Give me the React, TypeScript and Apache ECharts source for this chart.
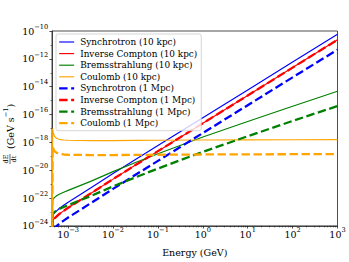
import React, { useEffect, useRef } from "react";
import * as echarts from "echarts";

// log10 of energy (GeV)
const logEnergy = [-3.355, -3.345, -3.33, -3.3, -3.25, -3.2, -3.1, -3.0, -2.5, -2.0, -1.5, -1.0, 0, 1, 2, 3];

// log10 of dE/dt (GeV s^-1)
const syncKpc = [-26, -23.3, -23.15, -23.05, -22.9, -22.75, -22.52, -22.3, -21.27, -20.24, -19.23, -18.23, -16.23, -14.23, -12.23, -10.23];
const icKpc = [-26, -23.7, -23.55, -23.45, -23.3, -23.15, -22.92, -22.7, -21.67, -20.64, -19.63, -18.63, -16.63, -14.63, -12.63, -10.63];
const bremKpc = [-26, -22.15, -22.05, -21.95, -21.82, -21.72, -21.58, -21.45, -20.8, -20.1, -19.45, -18.82, -17.62, -16.5, -15.4, -14.33];
const coulKpc = [-26, -17.0, -17.35, -17.6, -17.72, -17.78, -17.83, -17.85, -17.87, -17.87, -17.86, -17.85, -17.83, -17.82, -17.81, -17.8];
const syncMpc = [-26, -24.4, -24.25, -24.15, -24.0, -23.85, -23.62, -23.4, -22.37, -21.34, -20.33, -19.33, -17.33, -15.33, -13.33, -11.34];
const icMpc = [-26, -23.7, -23.55, -23.45, -23.3, -23.15, -22.92, -22.7, -21.67, -20.64, -19.63, -18.63, -16.63, -14.63, -12.63, -10.63];
const bremMpc = [-26, -23.2, -23.1, -23.0, -22.88, -22.78, -22.64, -22.51, -21.86, -21.16, -20.51, -19.88, -18.68, -17.56, -16.46, -15.39];
const coulMpc = [-26, -18.3, -18.45, -18.65, -18.76, -18.82, -18.87, -18.89, -18.91, -18.91, -18.9, -18.89, -18.87, -18.86, -18.85, -18.84];

const seriesNames = [
  "Synchrotron (10 kpc)",
  "Inverse Compton (10 kpc)",
  "Bremsstrahlung (10 kpc)",
  "Coulomb (10 kpc)",
  "Synchrotron (1 Mpc)",
  "Inverse Compton (1 Mpc)",
  "Bremsstrahlung (1 Mpc)",
  "Coulomb (1 Mpc)",
];
const seriesValues = [syncKpc, icKpc, bremKpc, coulKpc, syncMpc, icMpc, bremMpc, coulMpc];
const seriesColors = ["#0000ff", "#ff0000", "#008000", "#ffa500", "#0000ff", "#ff0000", "#008000", "#ffa500"];
const seriesDashed = [false, false, false, false, true, true, true, true];

const xTickExponents = [-3, -2, -1, 0, 1, 2, 3];

const FONT = "DejaVu Serif";
const BASE = 9.5;
const SUPSIZE = 6.65;

const pow10Rich = (v: number) => {
  const n = Math.round(v);
  const e = n < 0 ? "\u2212" + String(-n) : String(n);
  return `{b|10}{s|${e}}`;
};
const richStyles = {
  b: { fontFamily: FONT, fontSize: BASE, color: "#000" },
  s: { fontFamily: FONT, fontSize: SUPSIZE, lineHeight: 6.6, padding: [0, 0, 8.4, 0], color: "#000" },
};

const minorX: number[] = [];
for (let n = -4; n <= 2; n++) {
  for (let k = 2; k <= 9; k++) {
    const v = Math.log10(k) + n;
    if (v > -3.36 && v < 3) minorX.push(v);
  }
}

export default function App() {
  const ref = useRef<HTMLDivElement>(null);
  useEffect(() => {
    if (!ref.current) return;
    const chart = echarts.init(ref.current, null, { renderer: "svg" });
    const series = seriesNames.map((name, i) => ({
      name,
      type: "line",
      data: logEnergy.map((x, j) => [x, seriesValues[i][j]]),
      symbol: "none",
      showSymbol: false,
      clip: true,
      lineStyle: {
        color: seriesColors[i],
        width: seriesDashed[i] ? 2.3 : 1.15,
        type: seriesDashed[i] ? [8.4, 3.6] : "solid",
      },
      itemStyle: { color: seriesColors[i] },
      emphasis: { disabled: true },
    }));
    chart.setOption({
      animation: false,
      textStyle: { fontFamily: FONT },
      grid: {
        left: 52,
        top: 31,
        right: 11.5,
        bottom: 33,
        show: true,
        borderColor: "#222",
        borderWidth: 0.8,
      },
      legend: {
        orient: "vertical",
        left: 56,
        top: 34,
        padding: [3.5, 4, 3, 2],
        itemWidth: 15,
        itemHeight: 8,
        itemGap: 2.6,
        borderColor: "#cccccc",
        borderWidth: 0.8,
        borderRadius: 2,
        backgroundColor: "rgba(255,255,255,0.8)",
        textStyle: { fontFamily: FONT, fontSize: 8.9, lineHeight: 8, color: "#000", padding: [0, 0, 0, 1] },
        itemStyle: { opacity: 0 },
        lineStyle: { width: "inherit" },
        data: seriesNames,
      },
      xAxis: [
        {
          type: "value",
          min: -3.36,
          max: 3,
          name: "Energy (GeV)",
          nameLocation: "middle",
          nameGap: 13.5,
          nameTextStyle: { fontFamily: FONT, fontSize: BASE, color: "#000" },
          axisLine: { show: true, onZero: false, lineStyle: { color: "#222", width: 0.8 } },
          axisTick: {
            show: true,
            inside: false,
            length: 2.6,
            customValues: xTickExponents,
            lineStyle: { color: "#222", width: 0.8 },
          },
          axisLabel: {
            customValues: xTickExponents,
            formatter: (v: number) => pow10Rich(v),
            rich: richStyles,
            margin: 3.5,
          },
          splitLine: { show: false },
        },
        {
          type: "value",
          min: -3.36,
          max: 3,
          position: "bottom",
          axisLine: { show: false, onZero: false },
          axisLabel: { show: false },
          splitLine: { show: false },
          axisTick: {
            show: true,
            inside: false,
            length: 1.5,
            customValues: minorX,
            lineStyle: { color: "#222", width: 0.6 },
          },
        },
      ],
      yAxis: {
        type: "value",
        min: -24,
        max: -10,
        interval: 2,
        axisLine: { show: true, onZero: false, lineStyle: { color: "#222", width: 0.8 } },
        axisTick: { show: true, inside: false, length: 2.6, lineStyle: { color: "#222", width: 0.8 } },
        minorTick: { show: true, splitNumber: 2, length: 1.5, lineStyle: { color: "#222", width: 0.6 } },
        axisLabel: {
          formatter: (v: number) => pow10Rich(v),
          rich: richStyles,
          margin: 3.7,
        },
        splitLine: { show: false },
      },
      graphic: [
        {
          type: "group",
          x: 10,
          y: 132,
          rotation: Math.PI / 2,
          children: [
            { type: "text", x: -27, y: -3.6, style: { text: "dE", fontFamily: FONT, fontSize: 6.6, fill: "#000", align: "center", verticalAlign: "middle" } },
            { type: "line", shape: { x1: -32, y1: 0, x2: -22, y2: 0 }, style: { stroke: "#000", lineWidth: 0.6 } },
            { type: "text", x: -27, y: 3.8, style: { text: "dt", fontFamily: FONT, fontSize: 6.6, fill: "#000", align: "center", verticalAlign: "middle" } },
            {
              type: "text",
              x: -17,
              y: 0,
              style: {
                text: "{b|(GeV s}{s|\u22121}{b|)}",
                align: "left",
                verticalAlign: "middle",
                rich: richStyles,
              },
            },
          ],
        },
      ],
      series,
    });
    return () => chart.dispose();
  }, []);
  return (
    <div
      ref={ref}
      style={{ position: "fixed", left: 0, top: 0, width: 349, height: 262, background: "#fff" }}
    />
  );
}
